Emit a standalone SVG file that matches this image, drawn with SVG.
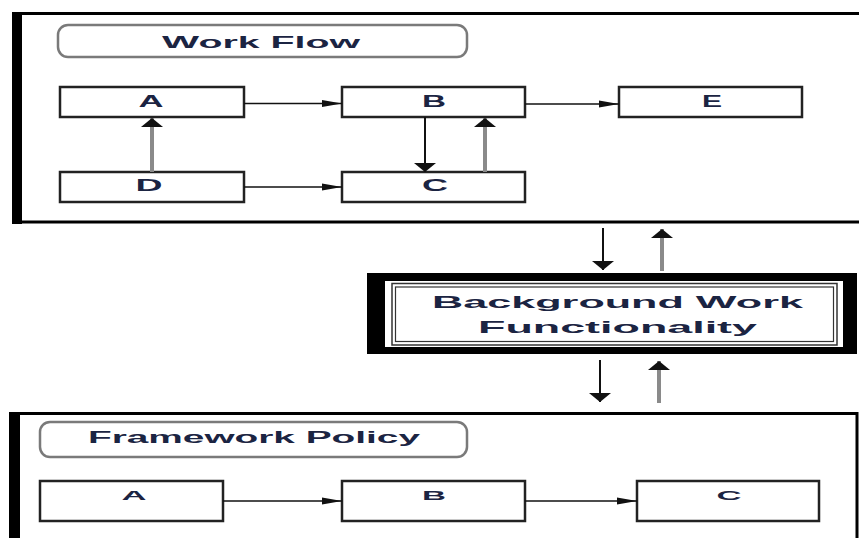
<svg xmlns="http://www.w3.org/2000/svg" width="859" height="538" viewBox="0 0 859 538">
<style>
.lbl{font-family:"Liberation Sans",Arial,sans-serif;font-weight:bold;fill:#1b2442;text-anchor:middle}
.node{fill:#fff;stroke:#222;stroke-width:2.5}
.pill{fill:#fff;stroke:#7a7a7a;stroke-width:2.5}
.blk{stroke:#111;stroke-width:2;fill:none}
.thin{stroke:#111;stroke-width:1.5;fill:none}
.gry{stroke:#8a8a8a;stroke-width:4;fill:none}
</style>
<defs>
<marker id="mh" markerUnits="userSpaceOnUse" markerWidth="22" markerHeight="10" refX="20" refY="5" orient="auto" viewBox="0 0 22 10">
<path d="M0,1.5 L20,5 L0,8.5 z" fill="#111"/>
</marker>
<marker id="mv" markerUnits="userSpaceOnUse" markerWidth="10" markerHeight="24" refX="9" refY="12" orient="auto" viewBox="0 0 10 24">
<path d="M0,1 L9,12 L0,23 z" fill="#111"/>
</marker>
</defs>
<rect width="859" height="538" fill="#fff"/>

<g id="workflow-frame">
<rect x="17" y="13.5" width="900" height="208.5" fill="none" stroke="#000" stroke-width="3"/>
<rect x="12" y="12" width="10" height="212" fill="#000"/>
</g>
<g id="workflow-title">
<rect class="pill" x="58" y="25" width="409" height="32" rx="10"/>
<text class="lbl" x="261" y="48" font-size="17" textLength="198" lengthAdjust="spacingAndGlyphs">Work Flow</text>
</g>
<g id="wf-A"><rect class="node" x="60" y="87" width="184" height="30"/><text class="lbl" x="151" y="107" font-size="16" textLength="25" lengthAdjust="spacingAndGlyphs">A</text></g>
<g id="wf-B"><rect class="node" x="342" y="87" width="183" height="30"/><text class="lbl" x="434" y="107" font-size="16" textLength="24" lengthAdjust="spacingAndGlyphs">B</text></g>
<g id="wf-E"><rect class="node" x="619" y="87" width="183" height="30"/><text class="lbl" x="712" y="107" font-size="16" textLength="20" lengthAdjust="spacingAndGlyphs">E</text></g>
<g id="wf-D"><rect class="node" x="60" y="172" width="184" height="30"/><text class="lbl" x="149" y="191" font-size="16" textLength="27" lengthAdjust="spacingAndGlyphs">D</text></g>
<g id="wf-C"><rect class="node" x="342" y="172" width="183" height="30"/><text class="lbl" x="435" y="191" font-size="16" textLength="26" lengthAdjust="spacingAndGlyphs">C</text></g>

<g id="background">
<rect x="367" y="273" width="490" height="81" fill="#000"/>
<rect x="385" y="281" width="458" height="66" fill="#fff"/>
<rect x="392" y="283.5" width="445" height="61.5" fill="none" stroke="#333" stroke-width="1.5"/>
<rect x="395.5" y="287" width="438" height="54.5" fill="none" stroke="#333" stroke-width="1.2"/>
<text class="lbl" x="617.5" y="308" font-size="17" textLength="371" lengthAdjust="spacingAndGlyphs">Background Work</text>
<text class="lbl" x="617.5" y="333" font-size="17" textLength="279" lengthAdjust="spacingAndGlyphs">Functionality</text>
</g>

<g id="framework-frame">
<path d="M14,413.5 H857 V540" fill="none" stroke="#000" stroke-width="3"/>
<rect x="9" y="412" width="11" height="130" fill="#000"/>
</g>
<g id="framework-title">
<rect class="pill" x="40" y="422" width="427" height="35" rx="10"/>
<text class="lbl" x="254" y="443" font-size="16" textLength="332" lengthAdjust="spacingAndGlyphs">Framework Policy</text>
</g>
<g id="fp-A"><rect class="node" x="40" y="481" width="183" height="40"/><text class="lbl" x="134" y="500" font-size="13" textLength="25" lengthAdjust="spacingAndGlyphs">A</text></g>
<g id="fp-B"><rect class="node" x="342" y="481" width="183" height="40"/><text class="lbl" x="434" y="500" font-size="13" textLength="24" lengthAdjust="spacingAndGlyphs">B</text></g>
<g id="fp-C"><rect class="node" x="637" y="481" width="182" height="40"/><text class="lbl" x="729" y="500" font-size="13" textLength="25" lengthAdjust="spacingAndGlyphs">C</text></g>

<g id="connectors">
<line class="thin" x1="244" y1="103.5" x2="342" y2="103.5" marker-end="url(#mh)"/>
<line class="thin" x1="525" y1="104" x2="619" y2="104" marker-end="url(#mh)"/>
<line class="thin" x1="244" y1="187" x2="342" y2="187" marker-end="url(#mh)"/>
<line class="gry" x1="152" y1="172" x2="152" y2="118" marker-end="url(#mv)"/>
<line class="blk" x1="425" y1="117" x2="425" y2="172" marker-end="url(#mv)"/>
<line class="gry" x1="485" y1="172" x2="485" y2="118" marker-end="url(#mv)"/>
<line class="blk" x1="603" y1="228" x2="603" y2="270" marker-end="url(#mv)"/>
<line class="gry" x1="662" y1="271" x2="662" y2="229" marker-end="url(#mv)"/>
<line class="blk" x1="600" y1="360" x2="600" y2="402" marker-end="url(#mv)"/>
<line class="gry" x1="659" y1="403" x2="659" y2="361" marker-end="url(#mv)"/>
<line class="thin" x1="223" y1="501" x2="342" y2="501" marker-end="url(#mh)"/>
<line class="thin" x1="525" y1="501" x2="637" y2="501" marker-end="url(#mh)"/>
</g>
</svg>
